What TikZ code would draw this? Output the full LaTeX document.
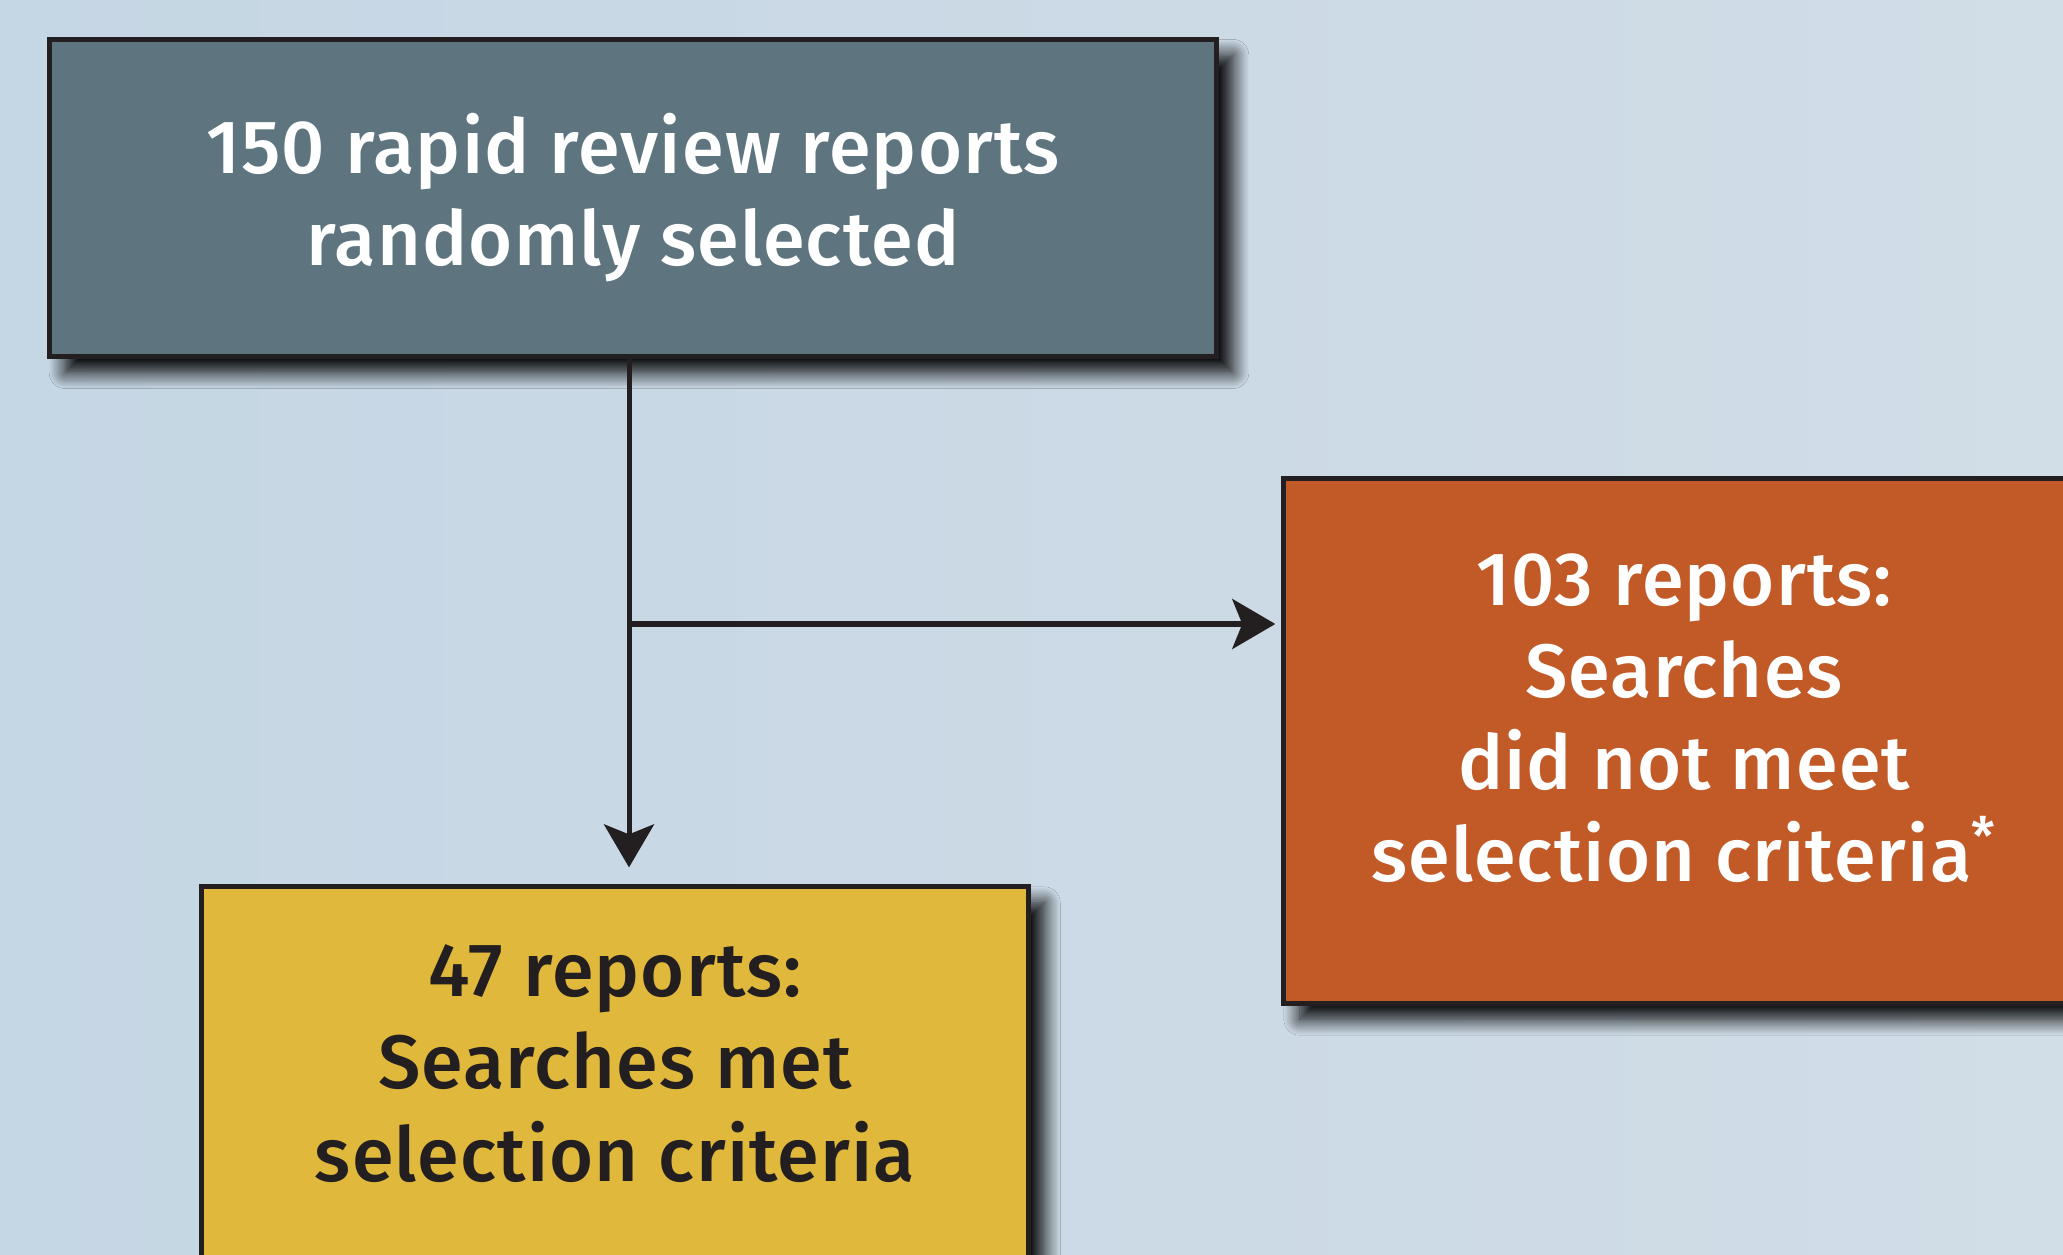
\documentclass[tikz,border=0pt]{standalone}
\usepackage{fontspec}
\setmainfont{Fira Sans}[UprightFont={* Medium}, LetterSpace=1.5]
\usetikzlibrary{arrows.meta,shadows.blur}

\definecolor{bgleft}{HTML}{C5D6E4}
\definecolor{bgright}{HTML}{D1DDE7}
\definecolor{slatebox}{HTML}{5E7580}
\definecolor{rustbox}{HTML}{C25A27}
\definecolor{goldbox}{HTML}{E0B83C}
\definecolor{inkline}{HTML}{231F20}

\tikzset{
    flowbox/.style={draw=inkline, line width=0.05cm, align=center, inner sep=0pt,
        font=\fontsize{21.5}{26.2}\selectfont,
        blur shadow={shadow xshift=0.16cm, shadow yshift=-0.16cm,
            shadow blur radius=0.16cm, shadow blur steps=15, shadow opacity=100}},
    flowline/.style={draw=inkline, line width=0.05cm},
    flowarrow/.style={flowline, -{Stealth[length=0.43cm, width=0.5cm, inset=0.1cm]}}
}

\begin{document}
\begin{tikzpicture}[x=0.01cm, y=-0.01cm]
                \shade[left color=bgleft, right color=bgright] (0,0) rectangle (2063,1255);
                \useasboundingbox (0,0) rectangle (2063,1255);
                \clip (0,0) rectangle (2063,1255);

                \node[flowbox, fill=slatebox, text=white, minimum width=11.67cm, minimum height=3.17cm]
                    (sampled) at (633,198) {150 rapid review reports\\randomly selected};
                \node[flowbox, fill=rustbox, text=white, minimum width=8cm, minimum height=5.24cm, text depth=0.47cm]
                    (excluded) at (1684,741) {103 reports:\\Searches\\did not meet\\selection criteria\textsuperscript{*}};
                \node[flowbox, fill=goldbox, text=inkline, minimum width=8.26cm, minimum height=3.82cm, text depth=0.3cm]
                    (included) at (615,1078) {47 reports:\\Searches met\\selection criteria};

                \coordinate (split) at (629,624);
                \draw[flowarrow, shorten >=0.17cm] (sampled.south -| split) -- (split |- included.north);
                \draw[flowarrow, shorten >=0.06cm] (split) -- (split -| excluded.west);

            \end{tikzpicture}
\end{document}
